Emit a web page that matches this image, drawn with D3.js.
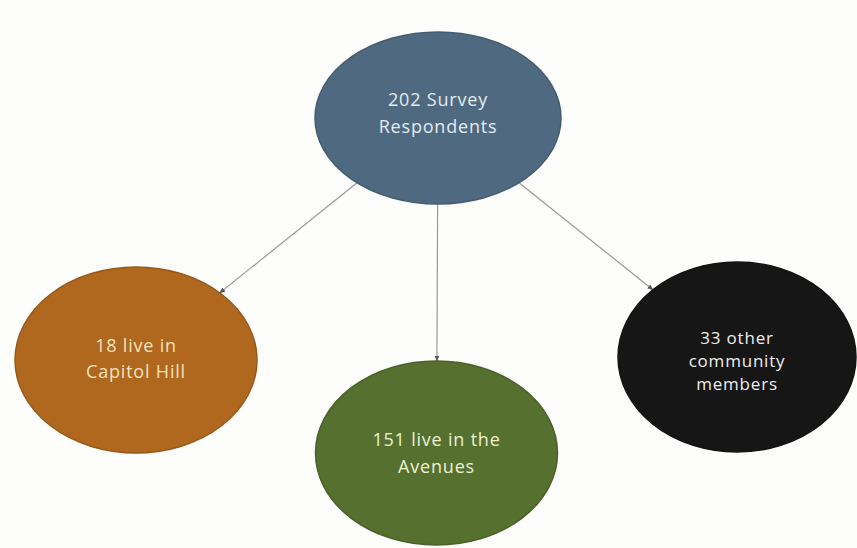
<!DOCTYPE html>
<html>
<head>
<meta charset="utf-8">
<script src="https://cdn.jsdelivr.net/npm/d3@7"></script>
<style>
  html, body { margin: 0; padding: 0; background: #fdfdfb; }
  svg { display: block; }
</style>
</head>
<body>
<svg id="chart" width="857" height="548"></svg>
<script>
// Respondent counts and the text shown inside each node
const nodeIds    = ["total", "capitol", "avenues", "other"];
const nodeValues = [202, 18, 151, 33];
const nodeLines  = [
  ["202 Survey", "Respondents"],
  ["18 live in", "Capitol Hill"],
  ["151 live in the", "Avenues"],
  ["33 other", "community", "members"]
];
const nodeColors = ["#4f6a80", "#b0671e", "#55702f", "#161616"];
const textColors = ["#e4eaf0", "#f6e2bc", "#ecf1d4", "#eeeeee"];
const links = [["total", "capitol"], ["total", "avenues"], ["total", "other"]];

const svg = d3.select("#chart");

// Layout: root on top, children spread across a point scale
const childX = d3.scalePoint().domain(["capitol", "avenues", "other"]).range([136, 737]);
const rowY = d3.scaleOrdinal().domain(nodeIds).range([118, 360, 453, 357]);
const rx = d3.scaleOrdinal().domain(nodeIds).range([123, 121, 121, 119]);
const ry = d3.scaleOrdinal().domain(nodeIds).range([86, 93, 92, 95]);
const fontSize = d3.scaleOrdinal().domain(nodeIds).range([18, 18, 18, 17]);
const lineH = d3.scaleOrdinal().domain(nodeIds).range([27, 26, 27, 23]);
const firstBase = d3.scaleOrdinal().domain(nodeIds).range([-12, -8, -7, -13]);

const nodes = nodeIds.map((id, i) => ({
  id, value: nodeValues[i], lines: nodeLines[i],
  color: nodeColors[i], textColor: textColors[i],
  x: id === "total" ? 438 : childX(id),
  y: rowY(id), rx: rx(id), ry: ry(id)
}));
const byId = Object.fromEntries(nodes.map(n => [n.id, n]));

// Point on an ellipse boundary in the direction (dx, dy)
function edge(n, dx, dy) {
  const t = 1 / Math.sqrt((dx * dx) / (n.rx * n.rx) + (dy * dy) / (n.ry * n.ry));
  return [n.x + dx * t, n.y + dy * t];
}

svg.append("defs").append("marker")
  .attr("id", "arrow")
  .attr("viewBox", "0 0 10 10")
  .attr("refX", 9).attr("refY", 5)
  .attr("markerWidth", 5).attr("markerHeight", 5)
  .attr("orient", "auto")
  .append("path")
  .attr("d", "M0,1 L10,5 L0,9 Z")
  .attr("fill", "#555");

svg.append("g").selectAll("line")
  .data(links)
  .join("line")
  .each(function ([s, t]) {
    const a = byId[s], b = byId[t];
    const dx = b.x - a.x, dy = b.y - a.y;
    const p0 = edge(a, dx, dy);
    const p1 = edge(b, -dx, -dy);
    d3.select(this)
      .attr("x1", p0[0]).attr("y1", p0[1])
      .attr("x2", p1[0]).attr("y2", p1[1]);
  })
  .attr("stroke", "#999")
  .attr("stroke-width", 1.2)
  .attr("marker-end", "url(#arrow)");

const g = svg.append("g").selectAll("g")
  .data(nodes)
  .join("g")
  .attr("transform", d => `translate(${d.x},${d.y})`);

g.append("ellipse")
  .attr("rx", d => d.rx)
  .attr("ry", d => d.ry)
  .attr("fill", d => d.color)
  .attr("stroke", d => d3.color(d.color).darker(0.4))
  .attr("stroke-width", 1.5);

g.append("text")
  .attr("text-anchor", "middle")
  .attr("font-family", "'Open Sans', Lato, sans-serif")
  .attr("font-size", d => fontSize(d.id))
  .attr("font-weight", 500)
  .attr("letter-spacing", 0.8)
  .attr("fill", d => d.textColor)
  .each(function (d) {
    const lh = lineH(d.id), y0 = firstBase(d.id);
    d3.select(this).selectAll("tspan")
      .data(d.lines)
      .join("tspan")
      .attr("x", 0)
      .attr("y", (l, i) => y0 + i * lh)
      .text(l => l);
  });
</script>
</body>
</html>
